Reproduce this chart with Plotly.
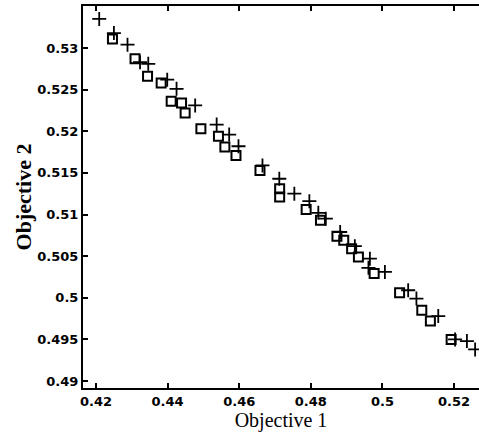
import plotly.graph_objects as go

# Series: squares
sq_x = [0.4246, 0.4309, 0.4344, 0.4382, 0.4410, 0.4439, 0.4449, 0.4493, 0.4542, 0.4560,
        0.4591, 0.4658, 0.4713, 0.4713, 0.4787, 0.4827, 0.4873, 0.4892, 0.4914, 0.4933,
        0.4977, 0.5048, 0.5110, 0.5134, 0.5192]
sq_y = [0.5311, 0.5287, 0.5266, 0.5258, 0.5236, 0.5234, 0.5222, 0.5203, 0.5194, 0.5181,
        0.5171, 0.5153, 0.5131, 0.5121, 0.5106, 0.5093, 0.5074, 0.5069, 0.5059, 0.5049,
        0.5029, 0.5006, 0.4985, 0.4972, 0.4950]

# Series: pluses
pl_x = [0.4209, 0.4250, 0.4288, 0.4323, 0.4346, 0.4399, 0.4425, 0.4477, 0.4537, 0.4572,
        0.4598, 0.4665, 0.4712, 0.4754, 0.4796, 0.4821, 0.4842, 0.4882, 0.4923, 0.4965,
        0.4961, 0.5007, 0.5072, 0.5095, 0.5156, 0.5203, 0.5236, 0.5259]
pl_y = [0.5335, 0.5318, 0.5304, 0.5283, 0.5281, 0.5262, 0.5251, 0.5231, 0.5208, 0.5196,
        0.5182, 0.5159, 0.5143, 0.5125, 0.5116, 0.5102, 0.5095, 0.5079, 0.5062, 0.5047,
        0.5036, 0.5031, 0.5009, 0.4999, 0.4978, 0.4950, 0.4948, 0.4938]

x_ticks = [0.42, 0.44, 0.46, 0.48, 0.50, 0.52]
x_labels = ["0.42", "0.44", "0.46", "0.48", "0.5", "0.52"]
y_ticks = [0.49, 0.495, 0.50, 0.505, 0.51, 0.515, 0.52, 0.525, 0.53]
y_labels = ["0.49", "0.495", "0.5", "0.505", "0.51", "0.515", "0.52", "0.525", "0.53"]

fig = go.Figure()
fig.add_trace(go.Scatter(x=sq_x, y=sq_y, mode="markers",
                         marker=dict(symbol="square-open", size=9, color="black",
                                     line=dict(width=2, color="black"))))
fig.add_trace(go.Scatter(x=pl_x, y=pl_y, mode="markers",
                         marker=dict(symbol="cross-thin-open", size=10, color="black",
                                     line=dict(width=1.8, color="black"))))

tickfont = dict(family="DejaVu Sans", size=13, color="black", weight="bold")
fig.update_layout(
    width=479, height=433,
    margin=dict(l=83, r=0, t=6, b=45),
    paper_bgcolor="white", plot_bgcolor="white",
    showlegend=False,
    xaxis=dict(range=[0.41637, 0.52698], tickvals=x_ticks, ticktext=x_labels,
               ticks="inside", ticklen=5, tickwidth=2, tickcolor="black",
               showline=True, linewidth=2, linecolor="black", mirror="ticks",
               showgrid=False, zeroline=False, tickfont=tickfont,
               title=dict(text="Objective 1", standoff=0,
                          font=dict(family="Liberation Serif", size=20, color="black"))),
    yaxis=dict(range=[0.48916, 0.53505], tickvals=y_ticks, ticktext=y_labels,
               ticks="inside", ticklen=5, tickwidth=2, tickcolor="black",
               showline=True, linewidth=2, linecolor="black",
               showgrid=False, zeroline=False, tickfont=tickfont,
               title=dict(text="Objective 2", standoff=0,
                          font=dict(family="Liberation Serif", size=22, color="black",
                                    weight="bold"))),
)
fig.write_html("out.html")
